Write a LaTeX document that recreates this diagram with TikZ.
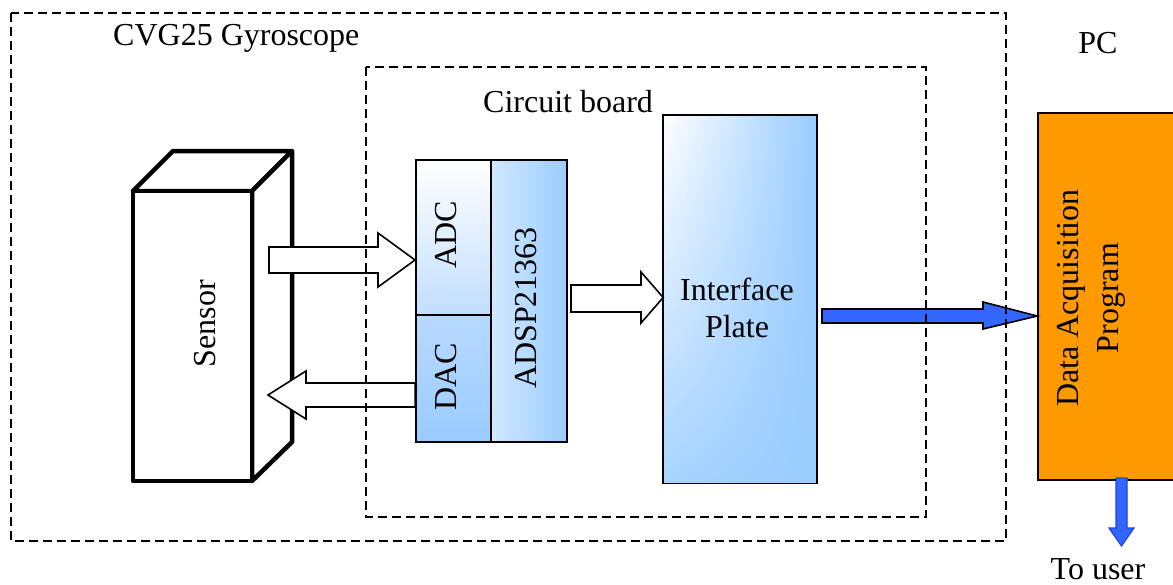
\documentclass[tikz,border=0pt]{standalone}
\usepackage{fontspec}
\setmainfont{Liberation Serif}
\usetikzlibrary{fadings}
\definecolor{lblue}{HTML}{99CCFF}
\definecolor{adcblue}{HTML}{C2DEFF}
\definecolor{dactop}{HTML}{B8D9FF}
\definecolor{adsptop}{HTML}{D2E8FF}
\definecolor{orangebox}{HTML}{FF9900}
\definecolor{arrowblue}{HTML}{3366FF}
\definecolor{arrowedge}{HTML}{1F44E0}
\begin{document}
\begin{tikzpicture}[x=1pt,y=-1pt,
  lbl/.style={font=\fontsize{32}{37}\selectfont, inner sep=0pt},
  dashbox/.style={draw, line width=2pt, dash pattern=on 9pt off 5pt},
  hollow/.style={draw, fill=white, line width=1.6pt, line join=miter},
  cube/.style={draw, fill=white, line width=4.5pt, line join=round},
  cell/.style={draw, line width=1.6pt, inner sep=0pt, rectangle},
  bluearrow/.style={draw, fill=arrowblue, line width=1.6pt, line join=miter}]
\useasboundingbox (0,0) rectangle (1173,584);

% sensor cube
\path[cube] (133,191) -- (173,151) -- (292,151) -- (252,191) -- cycle;
\path[cube] (252,191) -- (292,151) -- (292,442) -- (252,481) -- cycle;
\node[cube, minimum width=119pt, minimum height=290pt, inner sep=0pt] (sensor) at (192.5,336) {};
\node[lbl, rotate=90] (sensortxt) at (205,323.5) {Sensor};

% chip cells
\node[cell, minimum width=75pt, minimum height=155pt, top color=white, bottom color=adcblue] (adc) at (453.5,237.5) {};
\node[cell, minimum width=75pt, minimum height=127pt, top color=dactop, bottom color=lblue] (dac) at (453.5,378.5) {};
\node[cell, minimum width=76pt, minimum height=282pt, left color=adsptop, right color=lblue] (adsp) at (529,301) {};
\node[lbl, rotate=90] (adctxt) at (446,235) {ADC};
\node[lbl, rotate=90] (dactxt) at (446,376.5) {DAC};
\node[lbl, rotate=90] (adsptxt) at (526,308) {ADSP21363};

% interface plate
\node[cell, minimum width=152pt, minimum height=367pt, left color=white, right color=lblue, draw=none] (iface) at (740,299.25) {};
\fill[lblue, path fading=north, opacity=0.85] (iface.south west) rectangle (iface.north east);
\draw[line width=1.6pt] (iface.south west) rectangle (iface.north east);
\node[lbl, align=center] (ifacetxt) at (737,308) {Interface\\Plate};

% hollow arrows
\path[hollow] (269,247) -- (378,247) -- (378,233) -- (415,260) -- (378,287) -- (378,273) -- (269,273) -- cycle;
\path[hollow] (adc.west |- 0,383) -- (306,383) -- (306,371) -- (268,395) -- (306,419) -- (306,407) -- (adc.west |- 0,407) -- cycle;
\path[hollow] (571,285) -- (641,285) -- (641,272) -- (iface.west |- 0,297.5) -- (641,323) -- (641,312) -- (571,312) -- cycle;

% PC box
\node[draw, line width=1.6pt, fill=orangebox, minimum width=142pt, minimum height=367pt, inner sep=0pt] (daq) at (1109,296.5) {};
\node[lbl, rotate=90, align=center, font=\fontsize{32}{40}\selectfont] (daqtxt) at (1091.5,298) {Data Acquisition\\Program};

% blue arrows
\path[bluearrow] (822,309) -- (983,309) -- (983,302) -- (daq.west |- 0,316) -- (983,329) -- (983,323) -- (822,323) -- cycle;
\path[bluearrow, draw=arrowedge, line width=1.2pt] (1116,478) -- (1116,528) -- (1109,528) -- (1121.5,546) -- (1134,528) -- (1127,528) -- (1127,478) -- cycle;

% labels
\node[lbl, anchor=base west] (cvg) at (113,45) {CVG25 Gyroscope};
\node[lbl, anchor=base west] (cb) at (483,112) {Circuit board};
\node[lbl, anchor=base] (pc) at (1098,53) {PC};
\node[lbl, anchor=base] (touser) at (1098,579) {To user};

% dashed boxes
\draw[dashbox] (11,13) rectangle (1006,541);
\draw[dashbox] (366,67) rectangle (926,517);
\end{tikzpicture}
\end{document}
